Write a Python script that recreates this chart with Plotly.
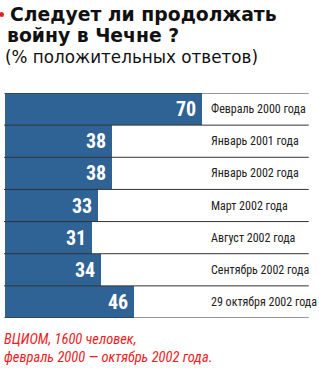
import plotly.graph_objects as go

labels = ["Февраль 2000 года", "Январь 2001 года", "Январь 2002 года", "Март 2002 года",
          "Август 2002 года", "Сентябрь 2002 года", "29 октября 2002 года"]
values = [70, 38, 38, 33, 31, 34, 46]

bar_color = "#2f6395"
cond = "Roboto Condensed, DejaVu Sans Condensed, sans-serif"

n = len(values)
ys = list(range(n))

PLOT_TOP, PLOT_BOT = 93, 318


def py(p):
    return (PLOT_BOT - p) / (PLOT_BOT - PLOT_TOP)


fig = go.Figure()
fig.add_trace(go.Bar(x=values, y=ys, orientation="h", marker=dict(color=bar_color, line=dict(width=0)),
                     width=1, hoverinfo="skip"))

shapes = []
for i in range(n + 1):
    shapes.append(dict(type="line", xref="x", yref="y", x0=-0.3, x1=108, y0=i - 0.5, y1=i - 0.5,
                       line=dict(color="#333333", width=1)))
shapes.append(dict(type="circle", xref="paper", yref="paper", x0=-0.5 / 319, x1=4 / 319, y0=py(17), y1=py(12),
                   fillcolor="#e02020", line=dict(width=0)))

ann = []
for i, (v, lab) in enumerate(zip(values, labels)):
    ann.append(dict(x=v, y=i, xref="x", yref="y", text=f"<b>{v}</b>", showarrow=False,
                    xanchor="right", xshift=-4, font=dict(family=cond, size=20, color="white")))
    ann.append(dict(x=72.4, y=i, xref="x", yref="y", text=lab, showarrow=False,
                    xanchor="left", font=dict(family=cond, size=12, color="#222222")))

title_font = dict(family="DejaVu Sans", size=18.8, color="#111111", weight="bold")
ann.append(dict(x=8 / 319, y=py(2), xref="paper", yref="paper", xanchor="left", yanchor="top",
                showarrow=False, text="Следует ли продолжать", font=title_font))
ann.append(dict(x=5 / 319, y=py(23), xref="paper", yref="paper", xanchor="left", yanchor="top",
                showarrow=False, text="войну в Чечне ?", font=title_font))
ann.append(dict(x=3 / 319, y=py(45), xref="paper", yref="paper", xanchor="left", yanchor="top",
                showarrow=False, align="left", text="(% положительных ответов)",
                font=dict(family="DejaVu Sans", size=16.8, color="#111111")))
foot_font = dict(family=cond, size=14.5, color="#ee1c24", style="italic")
ann.append(dict(x=3 / 319, y=py(330), xref="paper", yref="paper", xanchor="left", yanchor="top",
                showarrow=False, text="ВЦИОМ, 1600 человек,", font=foot_font, borderpad=0))
ann.append(dict(x=3 / 319, y=py(348), xref="paper", yref="paper", xanchor="left", yanchor="top",
                showarrow=False, text="февраль 2000 — октябрь 2002 года.", font=foot_font, borderpad=0))

fig.update_layout(
    width=319, height=368, margin=dict(l=0, r=0, t=PLOT_TOP, b=368 - PLOT_BOT),
    paper_bgcolor="white", plot_bgcolor="white", showlegend=False,
    bargap=0,
    xaxis=dict(range=[-5 / 2.857, 314 / 2.857 + 1.75], visible=False, fixedrange=True),
    yaxis=dict(range=[n - 0.5, -0.5], visible=False, fixedrange=True),
    shapes=shapes, annotations=ann,
)

fig.write_html("out.html", config={"displayModeBar": False})
